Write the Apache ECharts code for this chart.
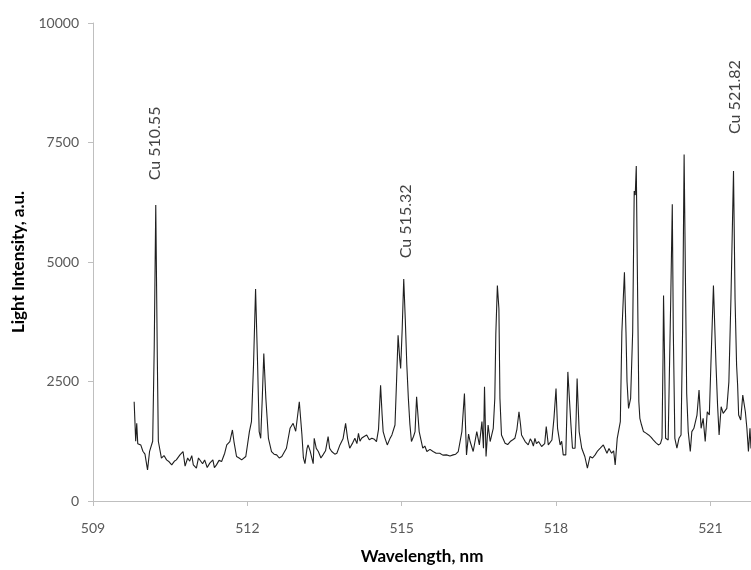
<!DOCTYPE html>
<html>
<head>
<meta charset="utf-8">
<script src="https://cdn.jsdelivr.net/npm/echarts@6/dist/echarts.min.js"></script>
<style>html,body{margin:0;padding:0;background:#fff}#c{width:751px;height:570px}</style>
</head>
<body>
<div id="c"></div>
<script>
const wavelength = [509.80,509.83,509.85,509.87,509.93,509.97,510.01,510.04,510.06,510.10,510.16,510.19,510.22,510.25,510.27,510.33,510.38,510.43,510.48,510.53,510.58,510.62,510.69,510.75,510.79,510.84,510.88,510.92,510.95,511.01,511.05,511.08,511.13,511.17,511.22,511.27,511.33,511.36,511.40,511.45,511.50,511.56,511.60,511.66,511.71,511.74,511.79,511.84,511.89,511.97,512.04,512.08,512.12,512.16,512.20,512.23,512.26,512.29,512.32,512.36,512.41,512.47,512.52,512.57,512.62,512.67,512.76,512.83,512.89,512.94,513.01,513.06,513.09,513.12,513.16,513.18,513.22,513.25,513.28,513.30,513.34,513.38,513.43,513.47,513.52,513.57,513.60,513.64,513.70,513.74,513.80,513.86,513.91,513.95,513.99,514.04,514.09,514.13,514.16,514.19,514.22,514.27,514.32,514.37,514.42,514.47,514.51,514.55,514.59,514.62,514.64,514.68,514.72,514.77,514.81,514.87,514.90,514.93,514.96,514.98,515.01,515.04,515.07,515.10,515.13,515.16,515.19,515.23,515.26,515.29,515.34,515.41,515.45,515.49,515.55,515.61,515.67,515.74,515.80,515.87,515.94,516.00,516.05,516.10,516.17,516.22,516.26,516.30,516.33,516.39,516.46,516.51,516.56,516.59,516.61,516.64,516.68,516.72,516.78,516.81,516.83,516.86,516.89,516.91,516.94,517.01,517.06,517.11,517.16,517.20,517.24,517.28,517.31,517.33,517.40,517.46,517.50,517.53,517.56,517.59,517.62,517.66,517.72,517.78,517.81,517.85,517.92,517.96,518.00,518.03,518.08,518.11,518.14,518.19,518.21,518.23,518.26,518.29,518.32,518.37,518.39,518.41,518.43,518.45,518.50,518.56,518.61,518.66,518.71,518.76,518.81,518.86,518.92,518.99,519.03,519.08,519.12,519.15,519.19,519.25,519.28,519.31,519.33,519.36,519.38,519.41,519.45,519.49,519.52,519.54,519.56,519.58,519.61,519.63,519.66,519.70,519.75,519.80,519.85,519.89,519.94,519.99,520.03,520.06,520.08,520.09,520.11,520.13,520.18,520.23,520.26,520.28,520.31,520.35,520.39,520.43,520.46,520.49,520.52,520.54,520.57,520.61,520.64,520.68,520.74,520.78,520.82,520.86,520.90,520.94,520.98,521.01,521.06,521.11,521.14,521.17,521.21,521.25,521.32,521.36,521.40,521.45,521.48,521.51,521.53,521.55,521.59,521.63,521.68,521.71,521.74,521.77,521.79];
const intensity = [2076,1250,1625,1200,1170,1040,980,965,652,1040,1250,3200,6193,3000,1250,896,950,860,820,756,830,860,965,1035,729,900,833,950,756,688,900,896,780,860,700,792,860,700,756,850,827,1000,1173,1244,1486,1244,931,900,860,931,1452,1660,2840,4437,2840,1452,1312,2146,3083,2146,1312,1035,980,965,900,931,1104,1521,1625,1458,2076,1400,900,780,1100,1173,1050,1035,780,1312,1100,1035,900,965,1050,1347,1100,1035,980,1000,1173,1300,1625,1300,1104,1200,1312,1200,1416,1250,1312,1350,1382,1280,1312,1290,1244,1500,2423,1800,1452,1300,1173,1300,1382,1590,2493,3465,3000,2771,3600,4646,3800,2840,2146,1600,1244,1350,1452,2180,1452,1104,1150,1035,1080,1035,1000,1000,960,965,940,965,980,1035,1452,2250,965,1400,1244,1035,1452,1173,1660,1104,2389,931,1590,1244,1521,2146,3500,4506,4021,2146,1382,1208,1180,1244,1280,1312,1500,1868,1600,1382,1244,1173,1300,1244,1150,1312,1200,1244,1140,1200,1556,1173,1277,1729,2354,1521,1173,1250,965,965,1800,2701,2701,1590,1104,1104,1700,2562,2000,1452,1104,931,688,931,900,965,1050,1104,1173,1000,1100,1000,1050,756,1312,1660,3535,4300,4785,3535,2500,1937,2146,3535,6485,6400,7006,4922,2076,1729,1600,1452,1420,1382,1330,1277,1220,1173,1200,1312,3000,4298,3000,1312,1277,4229,6208,3535,1312,1104,1312,1382,3535,7250,4229,2250,1452,1035,1452,1521,1798,2319,1521,1729,1244,1868,1798,2840,4506,2840,2007,1382,1972,1833,1937,2493,4229,6902,4229,2840,2423,1798,1694,2215,1868,1521,1035,1521,1100];
const xTicks = [509, 512, 515, 518, 521];
const yTicks = [0, 2500, 5000, 7500, 10000];
const annotationText = ['Cu 510.55', 'Cu 515.32', 'Cu 521.82'];
const annotationX = [510.21, 515.08, 521.48];
const annotationY = [7480, 5850, 8450];

const chart = echarts.init(document.getElementById('c'), null, {renderer: 'canvas'});
const axisColor = '#bfbfbf';
const labelColor = '#595959';
const fontFamily = 'Lato, "Open Sans", sans-serif';
chart.setOption({
  animation: false,
  grid: {left: 93, right: 0, top: 23, bottom: 67, containLabel: false},
  xAxis: {
    type: 'value', min: 509, max: 521.79,
    name: 'Wavelength, nm', nameLocation: 'middle', nameGap: 47,
    nameTextStyle: {fontFamily, fontWeight: 'bold', fontSize: 17, color: '#000'},
    axisLine: {show: true, onZero: false, lineStyle: {color: axisColor, width: 1}},
    axisTick: {show: true, length: 5, customValues: xTicks, lineStyle: {color: axisColor}},
    axisLabel: {customValues: xTicks, margin: 20, color: labelColor, fontFamily, fontSize: 14,
      formatter: v => String(v)},
    splitLine: {show: false}
  },
  yAxis: {
    type: 'value', min: 0, max: 10000, interval: 2500,
    name: 'Light Intensity, a.u.', nameLocation: 'middle', nameGap: 66,
    nameTextStyle: {fontFamily, fontWeight: 'bold', fontSize: 17, color: '#000'},
    axisLine: {show: true, lineStyle: {color: axisColor, width: 1}},
    axisTick: {show: true, length: 5, lineStyle: {color: axisColor}},
    axisLabel: {margin: 14, color: labelColor, fontFamily, fontSize: 14, customValues: yTicks,
      formatter: v => String(v)},
    splitLine: {show: false}
  },
  series: [
    {
      type: 'line', showSymbol: false, symbol: 'none',
      data: wavelength.map((w, i) => [w, intensity[i]]),
      lineStyle: {color: '#1f1f1f', width: 1.1},
      z: 2
    },
    {
      type: 'scatter', symbolSize: 1, itemStyle: {color: 'rgba(0,0,0,0)'},
      data: annotationX.map((x, i) => [x, annotationY[i], annotationText[i]]),
      label: {
        show: true, position: 'inside', rotate: 90,
        formatter: p => p.value[2],
        color: '#111', fontFamily, fontSize: 16
      },
      z: 3
    }
  ]
});
</script>
</body>
</html>
